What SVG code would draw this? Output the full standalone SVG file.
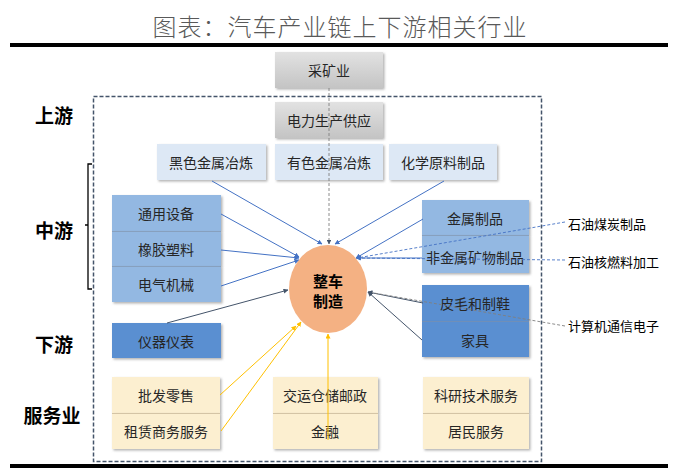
<svg xmlns="http://www.w3.org/2000/svg" width="681" height="468" viewBox="0 0 681 468">
<defs>
<filter id="sh" x="-10%" y="-10%" width="130%" height="140%">
<feDropShadow dx="1.5" dy="1.5" stdDeviation="1" flood-color="#808080" flood-opacity="0.6"/>
</filter>
<linearGradient id="gGray" x1="0" y1="0" x2="0" y2="1"><stop offset="0" stop-color="#e2e2e2"/><stop offset="1" stop-color="#c4c4c4"/></linearGradient>
<marker id="aB" viewBox="0 0 10 10" refX="9" refY="5" markerWidth="5" markerHeight="5" orient="auto"><path d="M0,0L10,5L0,10z" fill="#4472c4"/></marker>
<marker id="aD" viewBox="0 0 10 10" refX="9" refY="5" markerWidth="5" markerHeight="5" orient="auto"><path d="M0,0L10,5L0,10z" fill="#44546a"/></marker>
<marker id="aY" viewBox="0 0 10 10" refX="9" refY="5" markerWidth="5" markerHeight="5" orient="auto"><path d="M0,0L10,5L0,10z" fill="#ffc000"/></marker>
</defs>
<style>
text{font-family:"Noto Sans CJK SC","Noto Sans CJK JP",sans-serif;}
.t{font-size:14px;fill:#262626;text-anchor:middle;dominant-baseline:central;}
.lab{font-size:19px;font-weight:bold;fill:#000;text-anchor:middle;dominant-baseline:central;}
.out{font-size:13px;fill:#000;dominant-baseline:central;}
.gray{fill:url(#gGray);filter:url(#sh);}
.lb{fill:#dde8f5;filter:url(#sh);}
.mb{fill:#93b8e2;filter:url(#sh);}
.db{fill:#5a8fd1;filter:url(#sh);}
.be{fill:#fcefd0;filter:url(#sh);}
.sep{stroke:#7f8fa6;stroke-width:1;stroke-opacity:0.6;}
.sepY{stroke:#c9b99a;stroke-width:1;stroke-opacity:0.8;}
.lB{stroke:#4472c4;stroke-width:1;fill:none;marker-end:url(#aB);}
.lD{stroke:#44546a;stroke-width:1;fill:none;marker-end:url(#aD);}
.lY{stroke:#ffc000;stroke-width:1;fill:none;marker-end:url(#aY);}
.dB{stroke:#4472c4;stroke-width:0.9;stroke-dasharray:3,2;fill:none;marker-end:url(#aB);}
.dG{stroke:#7f7f7f;stroke-width:0.9;stroke-dasharray:3,2;fill:none;marker-end:url(#aD);}
</style>
<rect width="681" height="468" fill="#fff"/>
<text x="340" y="25" font-size="24" font-weight="300" fill="#595959" text-anchor="middle" dominant-baseline="central" letter-spacing="1">图表：汽车产业链上下游相关行业</text>
<rect x="10" y="43" width="658" height="4" fill="#000"/>
<rect x="93.5" y="96.5" width="448" height="365" fill="none" stroke="#44546a" stroke-width="1.5" stroke-dasharray="4,2"/>
<rect x="10" y="464" width="658" height="4" fill="#000"/>

<g id="labels">
<text class="lab" x="54" y="114">上游</text>
<text class="lab" x="54" y="229">中游</text>
<text class="lab" x="54" y="343">下游</text>
<text class="lab" x="52" y="414">服务业</text>
<path d="M92,164H88V289H92M88,225H85" fill="none" stroke="#000" stroke-width="1.3"/>
</g>

<g id="n-mining"><rect class="gray" x="275" y="52" width="108" height="36"/><text class="t" x="329" y="70">采矿业</text></g>
<g id="n-power"><rect class="gray" x="275" y="102" width="108" height="36"/><text class="t" x="329" y="120">电力生产供应</text></g>
<g id="n-ferrous"><rect class="lb" x="157" y="144" width="109" height="36"/><text class="t" x="211" y="162">黑色金属冶炼</text></g>
<g id="n-nonferrous"><rect class="lb" x="275" y="144" width="108" height="36"/><text class="t" x="329" y="162">有色金属冶炼</text></g>
<g id="n-chem"><rect class="lb" x="389" y="144" width="108" height="36"/><text class="t" x="443" y="162">化学原料制品</text></g>

<g id="n-general"><rect class="mb" x="112" y="195" width="109" height="36"/><text class="t" x="166" y="213">通用设备</text></g>
<g id="n-rubber"><rect class="mb" x="112" y="231" width="109" height="35"/><line class="sep" x1="112" y1="231.5" x2="221" y2="231.5"/><text class="t" x="166" y="249">橡胶塑料</text></g>
<g id="n-electric"><rect class="mb" x="112" y="266" width="109" height="36"/><line class="sep" x1="112" y1="266.5" x2="221" y2="266.5"/><text class="t" x="166" y="284">电气机械</text></g>
<g id="n-instrument"><rect class="db" x="112" y="323" width="109" height="35"/><text class="t" x="166" y="341">仪器仪表</text></g>

<g id="n-metal"><rect class="mb" x="422" y="200" width="107" height="35"/><text class="t" x="475" y="218">金属制品</text></g>
<g id="n-nonmetal"><rect class="mb" x="422" y="235" width="107" height="38"/><line class="sep" x1="422" y1="235.5" x2="529" y2="235.5"/><text class="t" x="475" y="257" font-size="12.5">非金属矿物制品</text></g>
<g id="n-leather"><rect class="db" x="422" y="285" width="107" height="36"/><text class="t" x="475" y="303">皮毛和制鞋</text></g>
<g id="n-furniture"><rect class="db" x="422" y="321" width="107" height="36"/><line class="sep" x1="422" y1="321.5" x2="529" y2="321.5"/><text class="t" x="475" y="340">家具</text></g>

<g id="n-wholesale"><rect class="be" x="112" y="377" width="108" height="36"/><text class="t" x="166" y="395">批发零售</text></g>
<g id="n-leasing"><rect class="be" x="112" y="413" width="108" height="36"/><line class="sepY" x1="112" y1="413.5" x2="220" y2="413.5"/><text class="t" x="166" y="431">租赁商务服务</text></g>
<g id="n-transport"><rect class="be" x="273" y="377" width="105" height="36"/><text class="t" x="325" y="395">交运仓储邮政</text></g>
<g id="n-finance"><rect class="be" x="273" y="413" width="105" height="36"/><line class="sepY" x1="273" y1="413.5" x2="378" y2="413.5"/><text class="t" x="325" y="431">金融</text></g>
<g id="n-research"><rect class="be" x="423" y="377" width="106" height="36"/><text class="t" x="476" y="395">科研技术服务</text></g>
<g id="n-resident"><rect class="be" x="423" y="413" width="106" height="36"/><line class="sepY" x1="423" y1="413.5" x2="529" y2="413.5"/><text class="t" x="476" y="431">居民服务</text></g>

<g id="n-petro"><text class="out" x="568" y="223">石油煤炭制品</text></g>
<g id="n-nuclear"><text class="out" x="568" y="261" font-size="12">石油核燃料加工</text></g>
<g id="n-computer"><text class="out" x="568" y="325" font-size="12">计算机通信电子</text></g>

<g id="connectors">
<path class="dG" d="M329,88V244"/>
<path class="lB" d="M212,181L322,244"/>
<path class="lB" d="M444,181L335,244"/>
<path class="lB" d="M221,214L299,257"/>
<path class="lB" d="M221,250L299,258"/>
<path class="lB" d="M221,286L299,260"/>
<path class="lD" d="M167,323L288,290"/>
<path class="lB" d="M423,219L356,258"/>
<path class="lB" d="M422,258L356,258"/>
<path class="dB" d="M565,222L357,258"/>
<path class="dB" d="M565,260L357,258"/>
<path class="lD" d="M423,303L368,292"/>
<path class="lD" d="M422,340L368,292"/>
<path class="dG" d="M565,326L368,292"/>
<path class="lY" d="M220,395L296,326"/>
<path class="lY" d="M221,431L301,322"/>
<path class="lY" d="M328,440V334"/>
</g>

<g id="n-car">
<ellipse cx="328" cy="289" rx="39" ry="44" fill="#f4b183"/>
<text x="328" y="280" font-size="15" font-weight="bold" fill="#000" text-anchor="middle" dominant-baseline="central">整车</text>
<text x="328" y="300" font-size="15" font-weight="bold" fill="#000" text-anchor="middle" dominant-baseline="central">制造</text>
</g>
</svg>
